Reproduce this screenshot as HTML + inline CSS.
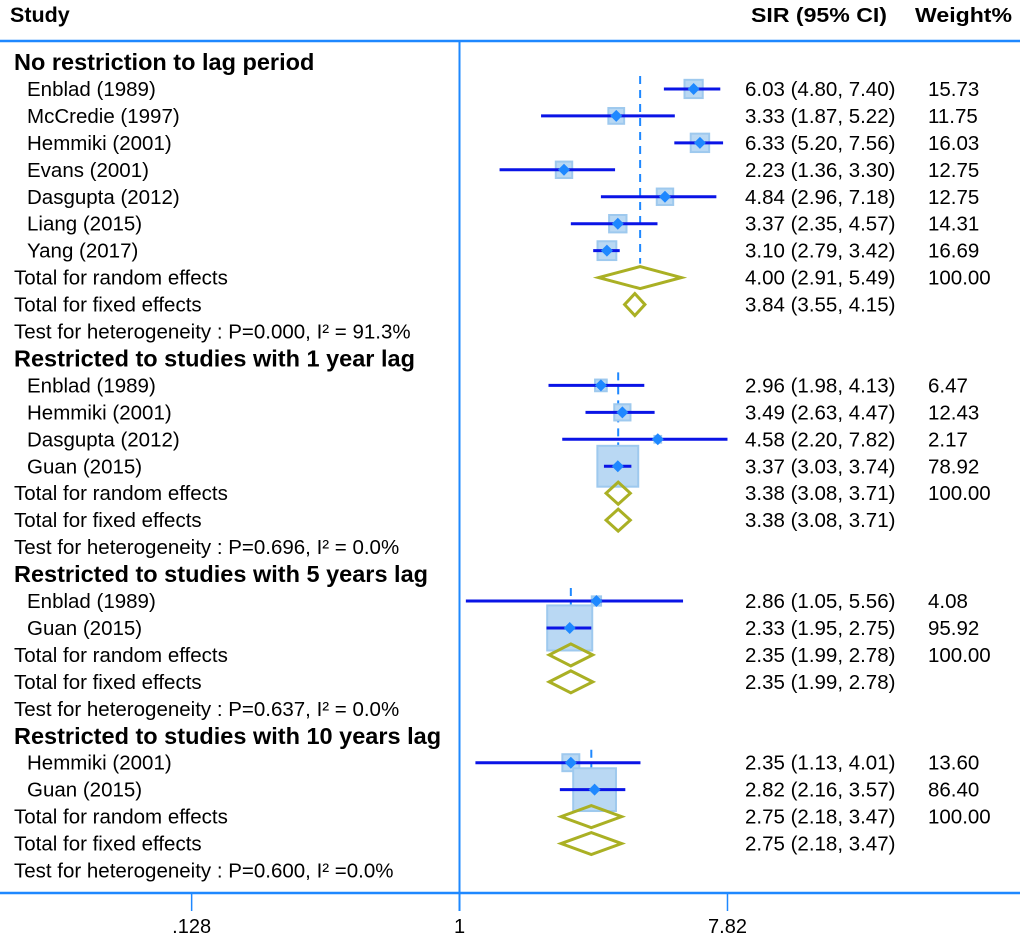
<!DOCTYPE html>
<html><head><meta charset="utf-8"><style>
body{margin:0;background:#fff}
svg{display:block;font-family:"Liberation Sans",Arial,sans-serif}
</style></head><body>
<svg id="c" width="1020" height="936"></svg>
<script>
// data
const labels=["No restriction to lag period","Enblad (1989)","McCredie (1997)","Hemmiki (2001)","Evans (2001)","Dasgupta (2012)","Liang (2015)","Yang (2017)","Total for random effects","Total for fixed effects","Test for heterogeneity : P=0.000, I² = 91.3%",
"Restricted to studies with 1 year lag","Enblad (1989)","Hemmiki (2001)","Dasgupta (2012)","Guan (2015)","Total for random effects","Total for fixed effects","Test for heterogeneity : P=0.696, I² = 0.0%",
"Restricted to studies with 5 years lag","Enblad (1989)","Guan (2015)","Total for random effects","Total for fixed effects","Test for heterogeneity : P=0.637, I² = 0.0%",
"Restricted to studies with 10 years lag","Hemmiki (2001)","Guan (2015)","Total for random effects","Total for fixed effects","Test for heterogeneity : P=0.600, I² =0.0%"];
const kinds=["h","s","s","s","s","s","s","s","d","d","t","h","s","s","s","s","d","d","t","h","s","s","d","d","t","h","s","s","d","d","t"];
const est=[null,6.03,3.33,6.33,2.23,4.84,3.37,3.10,4.00,3.84,null,null,2.96,3.49,4.58,3.37,3.38,3.38,null,null,2.86,2.33,2.35,2.35,null,null,2.35,2.82,2.75,2.75,null];
const lo=[null,4.80,1.87,5.20,1.36,2.96,2.35,2.79,2.91,3.55,null,null,1.98,2.63,2.20,3.03,3.08,3.08,null,null,1.05,1.95,1.99,1.99,null,null,1.13,2.16,2.18,2.18,null];
const hi=[null,7.40,5.22,7.56,3.30,7.18,4.57,3.42,5.49,4.15,null,null,4.13,4.47,7.82,3.74,3.71,3.71,null,null,5.56,2.75,2.78,2.78,null,null,4.01,3.57,3.47,3.47,null];
const weights=[null,"15.73","11.75","16.03","12.75","12.75","14.31","16.69","100.00","",null,null,"6.47","12.43","2.17","78.92","100.00","",null,null,"4.08","95.92","100.00","",null,null,"13.60","86.40","100.00","",null];
const pooled=[4.00,3.38,2.35,2.75];
const ticks=[0.128,1,7.82];
const tickLabels=[".128","1","7.82"];

const NS="http://www.w3.org/2000/svg";
const svg=document.getElementById('c');
function mk(t,a,p){const e=document.createElementNS(NS,t);for(const k in a)e.setAttribute(k,a[k]);(p||svg).appendChild(e);return e;}
const X=v=>459.5+130.3*Math.log(v);
const Y=i=>62+i*26.95;
const BLUE="#1e88ff";
function txt(s,x,y,opt){const e=mk('text',Object.assign({x:x,y:y,'font-size':20.5,fill:'#000'},opt||{}));e.textContent=s;return e;}

let h;
h=txt("Study",10,22,{'font-size':21.5,'font-weight':'bold'});

h=txt("SIR (95% CI)",751,22,{'font-size':20,'font-weight':'bold',textLength:136,lengthAdjust:'spacingAndGlyphs'});

h=txt("Weight%",915,22,{'font-size':20,'font-weight':'bold',textLength:97,lengthAdjust:'spacingAndGlyphs'});


let l=mk('line',{x1:0,x2:1020,y1:41,y2:41,stroke:BLUE,'stroke-width':2.5});

l=mk('line',{x1:0,x2:1020,y1:893,y2:893,stroke:BLUE,'stroke-width':2.5});

l=mk('line',{x1:X(1),x2:X(1),y1:41,y2:911,stroke:BLUE,'stroke-width':2});


ticks.forEach((t,i)=>{
  const tl=mk('line',{x1:X(t),x2:X(t),y1:893,y2:911,stroke:BLUE,'stroke-width':1.5});
  
  
  const tt=txt(tickLabels[i],X(t),933,{'text-anchor':'middle','font-size':20});
  
  
});

let sec=-1;
const sections=[];
kinds.forEach((k,i)=>{if(k==='h'){sec++;sections.push({first:i+1,last:i+1});}if(k==='s')sections[sec].last=i;});
sections.forEach((s,j)=>{
  const d=mk('line',{x1:X(pooled[j]),x2:X(pooled[j]),y1:Y(s.first)-13,y2:Y(s.last)+13,stroke:BLUE,'stroke-width':2,'stroke-dasharray':'8,6'});
  
  
});

labels.forEach((lab,i)=>{
  const y=Y(i),k=kinds[i];
  let t;
  if(k==='h'){t=txt(lab,14,y+8,{'font-size':23.5,'font-weight':'bold'});}
  else if(k==='s'){t=txt(lab,27,y+7);}
  else{t=txt(lab,14,y+7);}
  
  
  if(est[i]!=null){
    const ci=txt(est[i].toFixed(2)+" ("+lo[i].toFixed(2)+", "+hi[i].toFixed(2)+")",745,y+7);
    
    
    if(weights[i]){const w=txt(weights[i],928,y+7);
      
      }
  }
  if(k==='s'){
    const side=4.6*Math.sqrt(parseFloat(weights[i]));
    const b=mk('rect',{x:X(est[i])-side/2,y:y-side/2,width:side,height:side,fill:'#b9d8f3',stroke:'#9ec9ee','stroke-width':2});
    
    
    const c=mk('line',{x1:X(lo[i]),x2:X(hi[i]),y1:y,y2:y,stroke:'#0a14e6','stroke-width':3});
    
    
    const cx=X(est[i]);
    const p=mk('polygon',{points:`${cx},${y-6} ${cx+6},${y} ${cx},${y+6} ${cx-6},${y}`,fill:'#1e88ff'});
    
    
  }
  if(k==='d'){
    const a=X(lo[i]),m=X(est[i]),b2=X(hi[i]);
    const p=mk('polygon',{points:`${a},${y} ${m},${y-11} ${b2},${y} ${m},${y+11}`,fill:'none',stroke:'#aab024','stroke-width':3});
    
    
  }
});
</script>
</body></html>
